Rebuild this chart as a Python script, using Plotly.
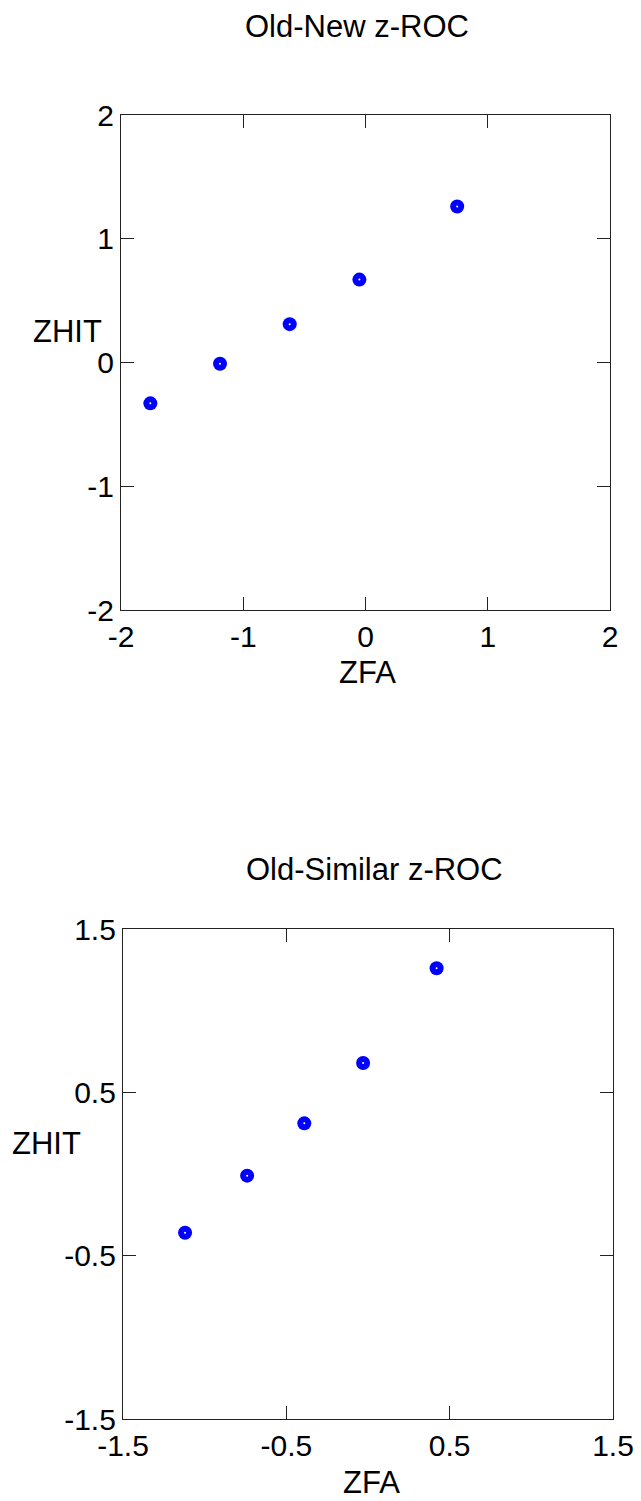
import plotly.graph_objects as go

# ---- data ----
old_new_zfa = [-1.76, -1.19, -0.62, -0.05, 0.75]
old_new_zhit = [-0.33, -0.01, 0.31, 0.67, 1.26]

old_sim_zfa = [-1.12, -0.74, -0.39, -0.03, 0.42]
old_sim_zhit = [-0.36, -0.01, 0.31, 0.68, 1.26]

top_ticks = [-2, -1, 0, 1, 2]
top_ticktext = ["-2", "-1", "0", "1", "2"]
bot_ticks = [-1.5, -0.5, 0.5, 1.5]
bot_ticktext = ["-1.5", "-0.5", "0.5", "1.5"]

titles = ["Old-New z-ROC", "Old-Similar z-ROC"]
xlabel = "ZFA"
ylabel = "ZHIT"

W, H = 641, 1501
FONT = "Liberation Sans, Arial, Helvetica, sans-serif"
BLUE = "#0000FF"


def px_x(p):
    return p / W


def px_y(p):
    return 1 - p / H


fig = go.Figure()

# markers: blue disk with a small white centre
for zfa, zhit, xa, ya in [(old_new_zfa, old_new_zhit, "x", "y"),
                          (old_sim_zfa, old_sim_zhit, "x2", "y2")]:
    fig.add_trace(go.Scatter(x=zfa, y=zhit, xaxis=xa, yaxis=ya, mode="markers",
                             marker=dict(symbol="circle", size=14, color=BLUE,
                                         line=dict(width=0)),
                             showlegend=False, hoverinfo="skip"))
    fig.add_trace(go.Scatter(x=zfa, y=zhit, xaxis=xa, yaxis=ya, mode="markers",
                             marker=dict(symbol="circle", size=2, color="white",
                                         line=dict(width=0)),
                             showlegend=False, hoverinfo="skip"))

axis_common = dict(showline=True, linecolor="#222222", linewidth=1.3,
                   mirror="ticks", ticks="inside", ticklen=13, tickwidth=1.2,
                   tickcolor="#222222", showgrid=False, zeroline=False,
                   automargin=False,
                   tickfont=dict(family=FONT, size=30, color="black"))

fig.update_layout(
    width=W, height=H, autosize=False,
    margin=dict(l=0, r=0, t=0, b=0, pad=0, autoexpand=False),
    paper_bgcolor="white", plot_bgcolor="white",
    font=dict(family=FONT, color="black"),
    xaxis=dict(domain=[px_x(121), px_x(610)], range=[-2, 2],
               tickvals=top_ticks, ticktext=top_ticktext, anchor="y",
               **axis_common),
    yaxis=dict(domain=[px_y(610), px_y(115)], range=[-2, 2],
               tickvals=top_ticks, ticktext=top_ticktext, anchor="x",
               **axis_common),
    xaxis2=dict(domain=[px_x(123), px_x(613)], range=[-1.5, 1.5],
                tickvals=bot_ticks, ticktext=bot_ticktext, anchor="y2",
                **axis_common),
    yaxis2=dict(domain=[px_y(1419), px_y(929)], range=[-1.5, 1.5],
                tickvals=bot_ticks, ticktext=bot_ticktext, anchor="x2",
                **axis_common),
)

ann = []
# titles
ann.append(dict(text=titles[0], x=px_x(357), y=px_y(26)))
ann.append(dict(text=titles[1], x=px_x(374), y=px_y(870)))
# x labels
ann.append(dict(text=xlabel, x=px_x(367), y=px_y(672)))
ann.append(dict(text=xlabel, x=px_x(371), y=px_y(1482)))
# y labels
ann.append(dict(text=ylabel, x=px_x(67), y=px_y(331)))
ann.append(dict(text=ylabel, x=px_x(46), y=px_y(1143)))

for a in ann:
    fig.add_annotation(xref="paper", yref="paper", xanchor="center",
                       yanchor="middle", showarrow=False,
                       font=dict(family=FONT, size=31, color="black"), **a)

fig.write_html(
    "out.html",
    config={"displayModeBar": False},
    post_script="document.body.style.margin='0';document.body.style.overflow='hidden';",
)
